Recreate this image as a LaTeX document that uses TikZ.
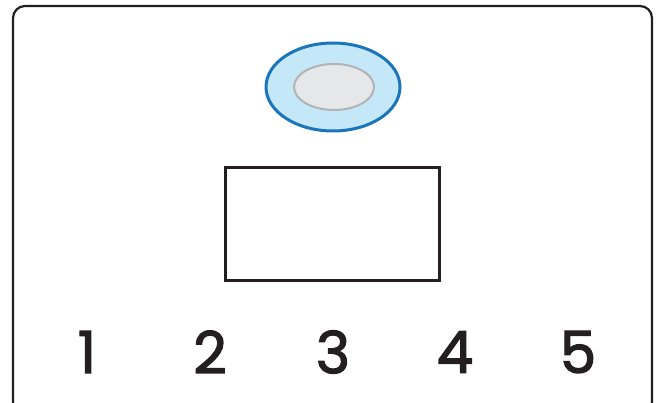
\documentclass[tikz,border=0pt]{standalone}
\usepackage{fontspec}
\newfontfamily\digitfont[FakeBold=2.2]{Poppins}
\definecolor{frame}{HTML}{231F20}
\definecolor{ringblue}{HTML}{1B75BB}
\definecolor{ringfill}{HTML}{C4E8F7}
\definecolor{innergray}{HTML}{B1B3B6}
\definecolor{innerfill}{HTML}{E6E7E8}
\tikzset{
  framebox/.style={draw=frame, line width=2.2pt, rounded corners=12pt},
  boxrect/.style={draw=frame, line width=2.2pt},
  digit/.style={font=\digitfont\fontsize{58}{58}\selectfont, text=frame, inner sep=0pt, anchor=center}
}
\begin{document}
\begin{tikzpicture}[x=1pt,y=-1pt]
\useasboundingbox (0,0) rectangle (660,403);
\draw[framebox] (13,6) rectangle (652,414);
\draw[draw=ringblue, fill=ringfill, line width=3pt] (333,87) ellipse [x radius=67, y radius=44];
\draw[draw=innergray, fill=innerfill, line width=2pt] (334,87) ellipse [x radius=40, y radius=23];
\node[boxrect, minimum width=214pt, minimum height=113pt, inner sep=0pt] (box) at (332.5,224) {};
\node[digit] (d1) at (87,352) {1};
\node[digit] (d2) at (210,352) {2};
\node[digit] (d3) at (333,352) {3};
\node[digit] (d4) at (455,352) {4};
\node[digit] (d5) at (578,352) {5};
\end{tikzpicture}
\end{document}
